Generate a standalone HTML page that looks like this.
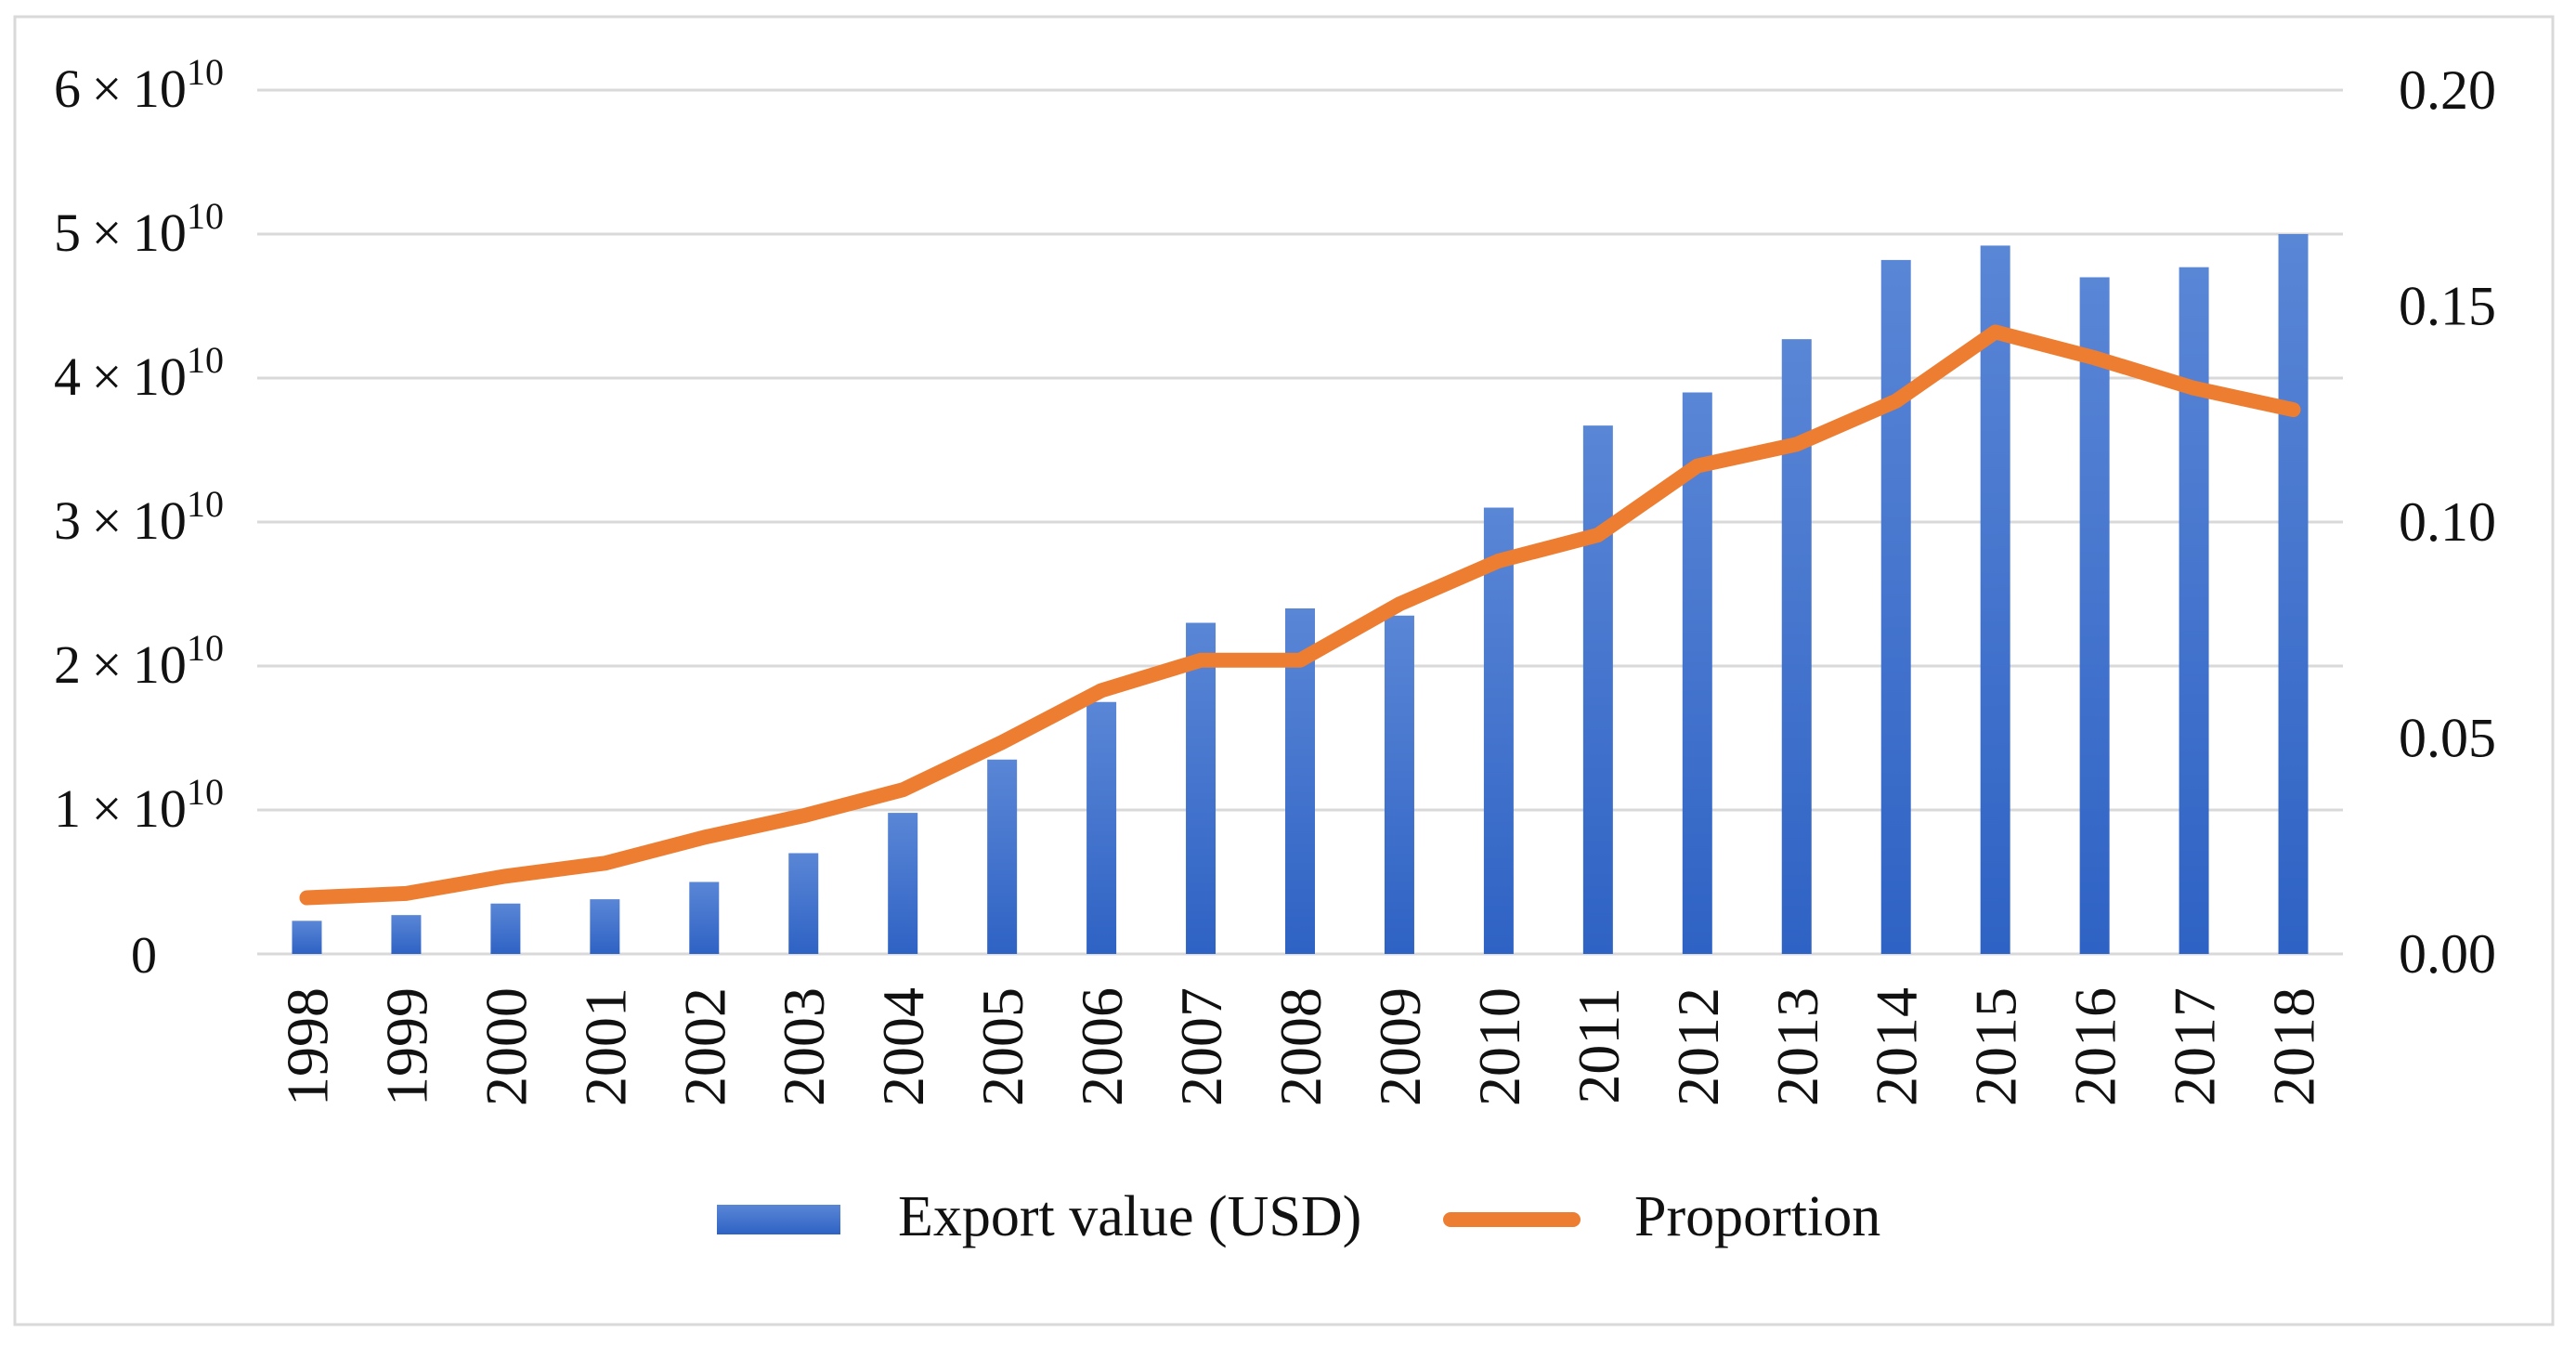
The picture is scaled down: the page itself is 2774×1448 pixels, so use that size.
<!DOCTYPE html>
<html><head><meta charset="utf-8"><style>
html,body{margin:0;padding:0;background:#fff;}
svg{display:block;font-family:"Liberation Serif",serif;}
</style></head><body>
<svg id="chart" width="2774" height="1448" viewBox="0 0 2774 1448">
<defs>
<linearGradient id="bg" x1="0" y1="0" x2="0" y2="1"><stop offset="0" stop-color="#5a86d6"/><stop offset="1" stop-color="#2e62c4"/></linearGradient>
</defs>
<rect x="16" y="18" width="2733" height="1408" fill="#fff" stroke="#d9d9d9" stroke-width="3"/>
<g id="grid"></g><g id="bars"></g><g id="line"></g><g id="labels"></g>
<g>
<rect x="772" y="1297" width="133" height="32" fill="url(#bg)"/>
<text x="967" y="1330" font-size="62" fill="#111">Export value (USD)</text>
<line x1="1562" y1="1313" x2="1694" y2="1313" stroke="#ed7d31" stroke-width="16" stroke-linecap="round"/>
<text x="1760" y="1330" font-size="62" fill="#111">Proportion</text>
</g>
</svg>
<script>
const years=["1998","1999","2000","2001","2002","2003","2004","2005","2006","2007","2008","2009","2010","2011","2012","2013","2014","2015","2016","2017","2018"];
const exportValues=[0.23e10,0.27e10,0.35e10,0.38e10,0.5e10,0.7e10,0.98e10,1.35e10,1.75e10,2.3e10,2.4e10,2.35e10,3.1e10,3.67e10,3.9e10,4.27e10,4.82e10,4.92e10,4.7e10,4.77e10,5.0e10];
const proportions=[0.013,0.014,0.018,0.021,0.027,0.032,0.038,0.049,0.061,0.068,0.068,0.081,0.091,0.097,0.113,0.118,0.128,0.144,0.138,0.131,0.126];
const leftTicks=[0,1e10,2e10,3e10,4e10,5e10,6e10];
const leftTickMant=["0","1","2","3","4","5","6"];
const rightTicks=["0.00","0.05","0.10","0.15","0.20"];
const NS="http://www.w3.org/2000/svg";
const X0=277,X1=2523,Y0=1027,Y1=97;
const bw=(X1-X0)/years.length;
const xc=i=>X0+bw*(i+0.5);
const yL=v=>Y0-(v/6e10)*(Y0-Y1);
const yR=v=>Y0-(v/0.2)*(Y0-Y1);
function mk(tag,attrs,parent){const e=document.createElementNS(NS,tag);for(const k in attrs)e.setAttribute(k,attrs[k]);parent.appendChild(e);return e;}
const grid=document.getElementById('grid'),bars=document.getElementById('bars'),line=document.getElementById('line'),labels=document.getElementById('labels');
leftTicks.forEach((t,i)=>{
 const y=yL(t);
 const g=mk('line',{x1:X0,x2:X1,y1:y,y2:y,stroke:'#d9d9d9','stroke-width':3},grid);
 
 
 let tx;
 if(i===0){tx=mk('text',{x:155,y:y+20,'font-size':56,fill:'#111','text-anchor':'middle'},labels);tx.textContent='0';}
 else{tx=mk('text',{x:58,y:y+18,'font-size':58,fill:'#111'},labels);
  tx.innerHTML=leftTickMant[i]+'\u2009\u00d7\u200910<tspan font-size="40" dy="-24">10</tspan>';}
 
 
});
rightTicks.forEach((t,i)=>{
 const tx=mk('text',{x:2583,y:yR(parseFloat(t))+20,'font-size':60,fill:'#111'},labels);
 tx.textContent=t;
 
 
});
years.forEach((yr,i)=>{
 const v=exportValues[i];const top=yL(v);
 const r=mk('rect',{x:xc(i)-16,y:top,width:32,height:Y0-top,fill:'url(#bg)'},bars);
 
 
 const tx=mk('text',{x:0,y:0,'font-size':64,fill:'#111','text-anchor':'end',transform:`translate(${xc(i)+22},1063) rotate(-90)`},labels);
 tx.textContent=yr;
 
 
});
const pts=proportions.map((p,i)=>xc(i)+','+yR(p)).join(' ');
const pl=mk('polyline',{points:pts,fill:'none',stroke:'#ed7d31','stroke-width':16,'stroke-linejoin':'round','stroke-linecap':'round'},line);


</script>
</body></html>
